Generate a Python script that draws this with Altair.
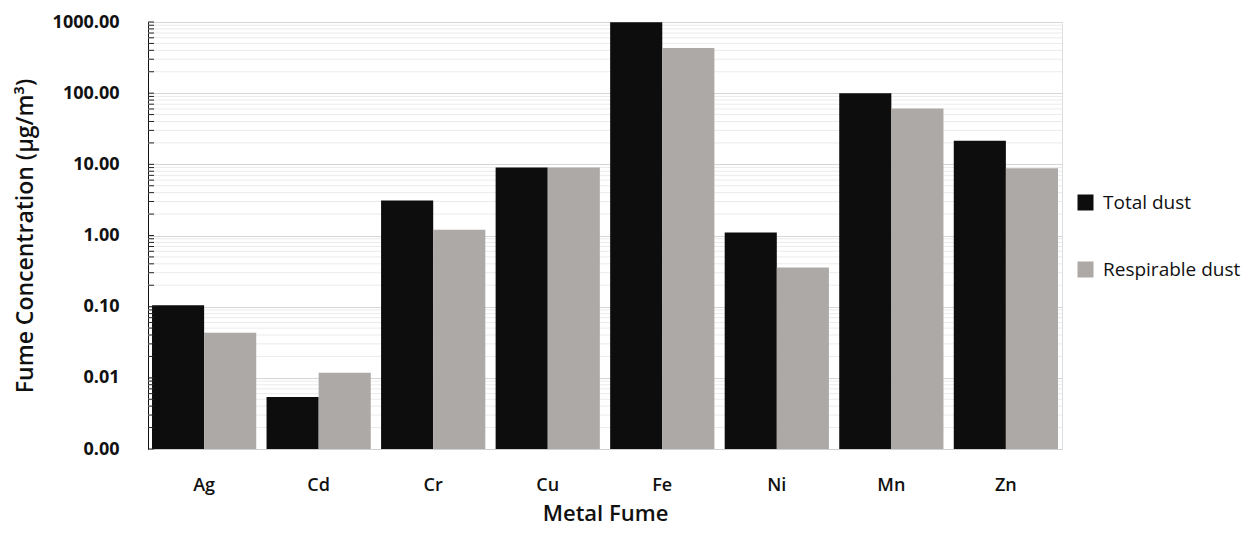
import altair as alt
import pandas as pd

categories = ["Ag", "Cd", "Cr", "Cu", "Fe", "Ni", "Mn", "Zn"]
total_dust = [0.105, 0.0054, 3.1, 9.0, 990.0, 1.1, 100.0, 21.5]
respirable_dust = [0.043, 0.0118, 1.2, 9.0, 430.0, 0.355, 61.0, 8.8]
series = ["Total dust", "Respirable dust"]
colors = ["#0d0d0d", "#aca9a7"]
decades = [0.001, 0.01, 0.1, 1, 10, 100, 1000]
minor = [m * d for d in decades[:-1] for m in range(2, 10)]

rows = []
for c, t, r in zip(categories, total_dust, respirable_dust):
    rows.append({"metal": c, "type": series[0], "value": t})
    rows.append({"metal": c, "type": series[1], "value": r})
df = pd.DataFrame(rows)

font = "Open Sans"
yscale = alt.Scale(type="log", domain=[0.001, 1000])

yaxis = alt.Axis(
    title="Fume Concentration (µg/m³)",
    values=decades,
    format=".2f",
    labelFont=font,
    labelFontSize=18,
    labelFontWeight="bold",
    labelColor="#111111",
    labelPadding=29,
    ticks=False,
    domainColor="#111111",
    gridColor="#d6d6d6",
    titleFont=font,
    titleFontSize=23,
    titleFontWeight=600,
    titleColor="#111111",
    titlePadding=15,
)

minor_df = pd.DataFrame({"v": minor})
ticks_df = pd.DataFrame({"v": minor + decades})

minor_grid = alt.Chart(minor_df).mark_rule(color="#ebebeb", strokeWidth=1).encode(
    y=alt.Y("v:Q", scale=yscale, axis=yaxis),
)

inner_ticks = alt.Chart(ticks_df).mark_rule(color="#222222", strokeWidth=1).encode(
    y=alt.Y("v:Q", scale=yscale, axis=yaxis),
    x=alt.value(0),
    x2=alt.value(6),
)

bars = alt.Chart(df).mark_bar().encode(
    x=alt.X(
        "metal:N",
        sort=categories,
        scale=alt.Scale(paddingInner=0.09, paddingOuter=0.035),
        axis=alt.Axis(
            title="Metal Fume",
            labelAngle=0,
            labelFont=font,
            labelFontSize=18,
            labelFontWeight=600,
            labelColor="#111111",
            labelPadding=27,
            ticks=False,
            domainColor="#cfcfcf",
            titleFont=font,
            titleFontSize=22,
            titleFontWeight=600,
            titleColor="#111111",
            titlePadding=9,
        ),
    ),
    xOffset=alt.XOffset("type:N", sort=series, scale=alt.Scale(paddingInner=0, paddingOuter=0)),
    y=alt.Y("value:Q", scale=yscale, axis=yaxis),
    y2=alt.datum(0.001),
    color=alt.Color(
        "type:N",
        sort=series,
        scale=alt.Scale(domain=series, range=colors),
        legend=alt.Legend(
            title=None,
            orient="none",
            legendX=928,
            legendY=171,
            symbolType="square",
            symbolSize=256,
            symbolStrokeWidth=0,
            labelFont=font,
            labelFontSize=19,
            labelColor="#111111",
            labelOffset=8,
            rowPadding=47,
        ),
    ),
)

chart = alt.layer(minor_grid, bars, inner_ticks).properties(
    width=914,
    height=427,
    autosize=alt.AutoSizeParams(type="none"),
    padding={"left": 140, "top": 14, "right": 187, "bottom": 77},
).configure_view(stroke=None).configure(background="white")

chart.save("out.html", embed_options={"renderer": "svg", "actions": False})
